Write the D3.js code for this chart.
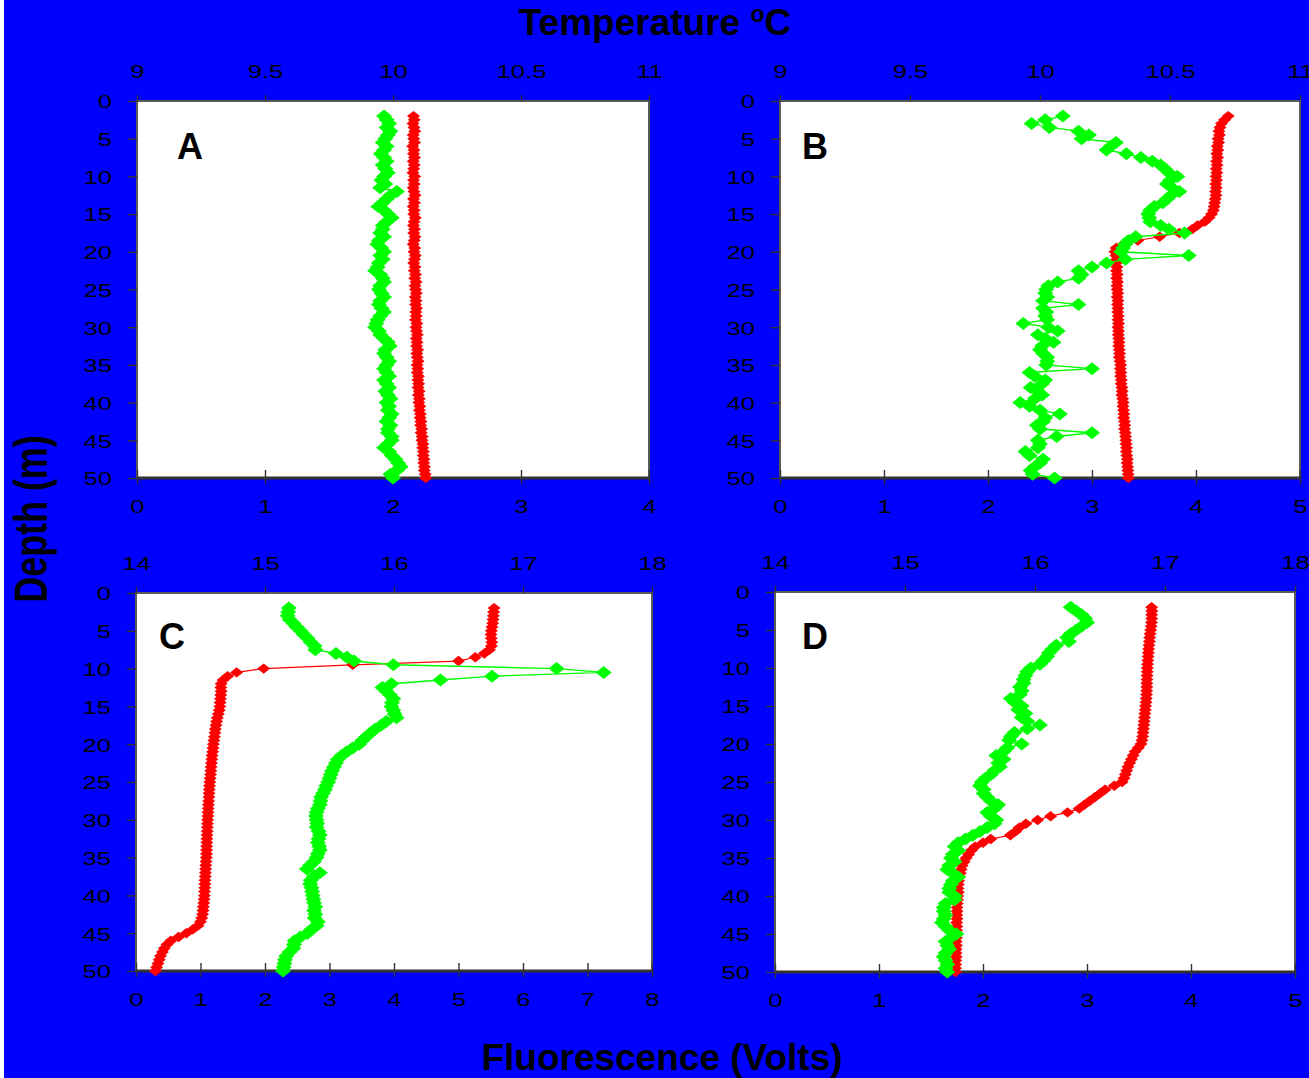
<!DOCTYPE html>
<html><head><meta charset="utf-8">
<script src="https://cdn.jsdelivr.net/npm/d3@7"></script>
<style>body{margin:0;background:#fff}svg{display:block}</style>
</head><body>
<svg id="c" width="1309" height="1078"></svg>
<script>
// ---------- DATA ----------
const depths = [2,2.5,3,3.5,4,4.5,5,5.5,6,6.5,7,7.5,8,8.5,9,9.5,10,10.5,11,11.5,
12,12.5,13,13.5,14,14.5,15,15.5,16,16.5,17,17.5,18,18.5,19,19.5,20,20.5,21,21.5,
22,22.5,23,23.5,24,24.5,25,25.5,26,26.5,27,27.5,28,28.5,29,29.5,30,30.5,31,31.5,
32,32.5,33,33.5,34,34.5,35,35.5,36,36.5,37,37.5,38,38.5,39,39.5,40,40.5,41,41.5,
42,42.5,43,43.5,44,44.5,45,45.5,46,46.5,47,47.5,48,48.5,49,49.5,50];

const depthTicks = [0,5,10,15,20,25,30,35,40,45,50];
const tempTicksAB = [9,9.5,10,10.5,11];
const tempTicksCD = [14,15,16,17,18];
const fluorTicksA = [0,1,2,3,4];
const fluorTicksB = [0,1,2,3,4,5];
const fluorTicksC = [0,1,2,3,4,5,6,7,8];
const fluorTicksD = [0,1,2,3,4,5];
const panelLetters = ["A","B","C","D"];

// Panel A
const tempA = [10.080,10.083,10.078,10.082,10.085,10.079,10.081,10.084,10.077,10.082,
10.080,10.084,10.079,10.083,10.081,10.078,10.085,10.080,10.083,10.079,
10.082,10.086,10.080,10.084,10.079,10.083,10.081,10.087,10.082,10.080,
10.084,10.081,10.086,10.083,10.079,10.085,10.082,10.087,10.084,10.081,
10.086,10.083,10.088,10.085,10.090,10.086,10.088,10.091,10.087,10.090,
10.088,10.092,10.089,10.091,10.088,10.093,10.090,10.092,10.095,10.091,
10.094,10.092,10.096,10.093,10.095,10.098,10.094,10.097,10.095,10.099,
10.097,10.100,10.098,10.102,10.099,10.103,10.101,10.105,10.103,10.107,
10.106,10.109,10.108,10.112,10.110,10.114,10.113,10.117,10.116,10.119,
10.118,10.121,10.120,10.123,10.122,10.126,10.128];
const fluorA = [1.93,1.95,1.97,1.95,1.98,1.96,1.94,1.92,1.95,1.93,
1.905,1.93,1.95,1.92,1.94,1.96,1.93,1.91,1.94,1.90,
2.03,1.98,1.95,1.92,1.885,1.93,1.96,1.99,1.95,1.92,
1.92,1.90,1.93,1.89,1.877,1.91,1.93,1.90,1.92,1.89,
1.88,1.86,1.90,1.92,1.93,1.90,1.89,1.91,1.93,1.90,
1.89,1.91,1.93,1.90,1.88,1.87,1.86,1.89,1.90,1.93,
1.96,1.975,1.94,1.93,1.95,1.97,1.95,1.93,1.95,1.97,
1.93,1.95,1.97,1.94,1.96,1.98,1.95,1.97,1.96,1.99,
1.97,1.95,1.98,1.96,1.96,1.99,1.99,1.96,1.93,1.97,
1.99,2.02,2.04,2.06,2.03,1.98,2.00];

// Panel B
const tempB = [10.724,10.710,10.698,10.692,10.688,10.690,10.685,10.687,10.682,10.684,
10.680,10.683,10.679,10.681,10.678,10.680,10.677,10.679,10.676,10.678,
10.675,10.677,10.674,10.672,10.670,10.667,10.660,10.650,10.634,10.606,
10.585,10.536,10.460,10.376,10.320,10.293,10.288,10.292,10.295,10.293,
10.296,10.294,10.297,10.295,10.298,10.296,10.297,10.299,10.297,10.300,
10.298,10.300,10.299,10.301,10.300,10.302,10.300,10.302,10.301,10.303,
10.304,10.303,10.305,10.306,10.305,10.308,10.310,10.309,10.311,10.310,
10.313,10.312,10.315,10.316,10.315,10.318,10.320,10.319,10.321,10.323,
10.322,10.325,10.326,10.325,10.328,10.329,10.330,10.331,10.333,10.332,
10.334,10.336,10.335,10.337,10.338,10.339,10.340];
const fluorB = [2.72,2.55,2.42,2.59,2.87,2.97,2.90,3.23,3.18,3.14,
3.33,3.47,3.58,3.66,3.70,3.74,3.82,3.75,3.72,3.77,
3.84,3.76,3.72,3.68,3.60,3.56,3.54,3.55,3.56,3.66,
3.74,3.89,3.42,3.35,3.32,3.30,3.28,3.93,3.32,3.14,
3.00,2.87,2.90,2.87,2.67,2.58,2.56,2.55,2.57,2.53,
2.87,2.53,2.56,2.55,2.57,2.34,2.58,2.67,2.48,2.55,
2.63,2.52,2.50,2.53,2.57,2.57,2.56,3.00,2.40,2.45,
2.55,2.52,2.41,2.48,2.52,2.45,2.31,2.40,2.50,2.69,
2.55,2.53,2.47,2.50,3.00,2.66,2.48,2.50,2.48,2.36,
2.40,2.53,2.50,2.45,2.41,2.43,2.64];

// Panel C
const tempC = [16.776,16.772,16.770,16.768,16.765,16.760,16.755,16.752,16.754,16.758,
16.755,16.740,16.700,16.630,16.500,15.680,14.990,14.780,14.710,14.675,
14.660,14.658,14.660,14.657,14.655,14.652,14.650,14.645,14.638,14.630,
14.625,14.620,14.615,14.612,14.608,14.604,14.600,14.597,14.594,14.590,
14.588,14.585,14.582,14.580,14.578,14.575,14.572,14.570,14.568,14.566,
14.565,14.563,14.561,14.560,14.558,14.557,14.555,14.554,14.553,14.552,
14.551,14.550,14.549,14.548,14.547,14.546,14.545,14.543,14.541,14.540,
14.538,14.537,14.535,14.534,14.533,14.531,14.530,14.528,14.525,14.522,
14.520,14.516,14.510,14.500,14.480,14.440,14.390,14.330,14.270,14.240,
14.220,14.205,14.190,14.180,14.170,14.160,14.150];
const fluorC = [2.37,2.36,2.35,2.38,2.44,2.49,2.55,2.60,2.66,2.71,
2.77,2.78,3.10,3.27,3.38,3.99,6.52,7.25,5.52,4.72,
3.96,3.82,3.88,3.94,3.99,3.97,3.96,3.99,4.01,4.04,
3.88,3.80,3.71,3.64,3.57,3.51,3.46,3.36,3.27,3.19,
3.13,3.10,3.07,3.04,3.02,3.00,2.98,2.95,2.93,2.90,
2.87,2.86,2.85,2.82,2.80,2.79,2.80,2.81,2.80,2.83,
2.85,2.83,2.82,2.84,2.85,2.82,2.80,2.76,2.70,2.65,
2.85,2.76,2.71,2.70,2.72,2.73,2.74,2.75,2.76,2.78,
2.76,2.78,2.77,2.82,2.80,2.72,2.66,2.55,2.46,2.45,
2.44,2.38,2.33,2.31,2.30,2.29,2.28];

// Panel D
const tempD = [16.897,16.899,16.897,16.898,16.896,16.894,16.890,16.886,16.882,16.880,
16.877,16.874,16.872,16.870,16.868,16.866,16.864,16.863,16.862,16.861,
16.860,16.860,16.859,16.858,16.856,16.854,16.851,16.848,16.845,16.842,
16.840,16.837,16.834,16.831,16.828,16.823,16.815,16.795,16.770,16.755,
16.742,16.728,16.715,16.705,16.695,16.685,16.670,16.610,16.540,16.500,
16.460,16.420,16.380,16.340,16.250,16.120,16.020,15.930,15.880,15.850,
15.810,15.660,15.600,15.540,15.510,15.490,15.470,15.455,15.440,15.432,
15.425,15.418,15.412,15.410,15.408,15.410,15.406,15.404,15.402,15.400,
15.400,15.398,15.400,15.397,15.398,15.396,15.398,15.395,15.394,15.396,
15.393,15.392,15.394,15.391,15.390,15.389,15.388];
const fluorD = [2.844,2.896,2.948,2.983,3.001,2.948,2.896,2.844,2.809,2.826,
2.704,2.669,2.634,2.617,2.582,2.547,2.460,2.425,2.408,2.390,
2.390,2.355,2.373,2.355,2.268,2.303,2.373,2.338,2.408,2.373,
2.425,2.547,2.425,2.303,2.268,2.251,2.373,2.233,2.198,2.128,
2.198,2.146,2.163,2.111,2.076,2.024,1.989,1.971,2.006,2.006,
2.041,2.076,2.146,2.111,2.041,2.076,2.128,2.111,2.041,1.971,
1.902,1.832,1.762,1.727,1.762,1.710,1.692,1.727,1.675,1.657,
1.710,1.762,1.710,1.692,1.675,1.675,1.727,1.727,1.640,1.622,
1.622,1.640,1.622,1.605,1.640,1.675,1.745,1.692,1.640,1.657,
1.675,1.640,1.622,1.640,1.657,1.640,1.657];

// ---------- LAYOUT ----------
const FONT = "'Liberation Sans', Arial, Helvetica, sans-serif";
const panels = [
  {box:[137,101,649,478], tDom:[9,11], fMax:4, tTicks:tempTicksAB, fTicks:fluorTicksA, temp:tempA, fluor:fluorA, lp:[177,159]},
  {box:[780,101,1300,478], tDom:[9,11], fMax:5, tTicks:tempTicksAB, fTicks:fluorTicksB, temp:tempB, fluor:fluorB, lp:[802,159]},
  {box:[136,593,652,971], tDom:[14,18], fMax:8, tTicks:tempTicksCD, fTicks:fluorTicksC, temp:tempC, fluor:fluorC, lp:[159,649]},
  {box:[775,592,1295,972], tDom:[14,18], fMax:5, tTicks:tempTicksCD, fTicks:fluorTicksD, temp:tempD, fluor:fluorD, lp:[802,649]}
];

const svg = d3.select("#c");
svg.append("rect").attr("width",1309).attr("height",1078).attr("fill","#fff");
svg.append("rect").attr("x",4).attr("width",1305).attr("height",1078).attr("fill","#0000ff");

const diamond = (hw,hh) => `M0,${-hh}L${hw},0L0,${hh}L${-hw},0Z`;

panels.forEach((p,i)=>{
  const [x0,y0,x1,y1] = p.box, w = x1-x0, h = y1-y0;
  const g = svg.append("g").attr("transform",`translate(${x0},${y0})`);
  const y = d3.scaleLinear().domain([0,50]).range([0,h]);
  const xT = d3.scaleLinear().domain(p.tDom).range([0,w]);
  const xF = d3.scaleLinear().domain([0,p.fMax]).range([0,w]);

  g.append("rect").attr("width",w).attr("height",h).attr("fill","#fff")
    .attr("stroke","#5a5a5a").attr("stroke-width",2);
  g.append("line").attr("x1",0).attr("x2",w).attr("y1",h).attr("y2",h)
    .attr("stroke","#333").attr("stroke-width",3);

  const styleAxis = (ax)=>{
    ax.select(".domain").remove();
    ax.selectAll(".tick line").attr("stroke","#333").attr("stroke-width",1.4);
    ax.selectAll(".tick text").attr("fill","#000").style("font-family",FONT).style("font-size","19px");
  };
  const top = g.append("g").call(d3.axisTop(xT).tickValues(p.tTicks).tickSize(6).tickFormat(d3.format("")));
  styleAxis(top);
  top.selectAll(".tick text").attr("y",-23).attr("dy","0").attr("transform","scale(1.35,1)");

  const bot = g.append("g").attr("transform",`translate(0,${h})`)
    .call(d3.axisBottom(xF).tickValues(p.fTicks).tickSize(6).tickFormat(d3.format("")));
  styleAxis(bot);
  bot.selectAll(".tick line").attr("y1",-8).attr("y2",6);
  bot.selectAll(".tick text").attr("y",35).attr("dy","0").attr("transform","scale(1.35,1)");

  const left = g.append("g").call(d3.axisLeft(y).tickValues(depthTicks).tickSize(9).tickFormat(d3.format("")));
  styleAxis(left);
  left.selectAll(".tick text").attr("x",-18.5).attr("dy","0.36em").attr("transform","scale(1.35,1)");

  const tData = depths.map((d,k)=>({d, v:p.temp[k]}));
  const fData = depths.map((d,k)=>({d, v:p.fluor[k]}));

  g.append("path").datum(tData).attr("fill","none").attr("stroke","#ff0000").attr("stroke-width",1.2)
    .attr("d", d3.line().x(d=>xT(d.v)).y(d=>y(d.d)));
  g.selectAll(".rm").data(tData).enter().append("path")
    .attr("transform",d=>`translate(${xT(d.v)},${y(d.d)})`)
    .attr("d", diamond(6.5,5.2)).attr("fill","#ff0000");

  g.append("path").datum(fData).attr("fill","none").attr("stroke","#00ff00").attr("stroke-width",1.4)
    .attr("d", d3.line().x(d=>xF(d.v)).y(d=>y(d.d)));
  g.selectAll(".gm").data(fData).enter().append("path")
    .attr("transform",d=>`translate(${xF(d.v)},${y(d.d)})`)
    .attr("d", diamond(8,6.5)).attr("fill","#00ff00");

  svg.append("text").attr("x",p.lp[0]).attr("y",p.lp[1]).text(panelLetters[i])
    .style("font-family",FONT).style("font-weight","bold").style("font-size","36px").attr("fill","#000");
});

// Titles
const tt = svg.append("text").attr("x",655).attr("y",35).attr("text-anchor","middle")
  .style("font-family",FONT).style("font-weight","bold").style("font-size","37px").attr("fill","#000");
tt.append("tspan").text("Temperature ");
tt.append("tspan").text("o").style("font-size","23px").attr("dy",-13);
tt.append("tspan").text("C").attr("dy",13);

svg.append("text").attr("x",662).attr("y",1070).attr("text-anchor","middle")
  .style("font-family",FONT).style("font-weight","bold").style("font-size","37px").attr("fill","#000")
  .text("Fluorescence (Volts)");

svg.append("text").attr("transform","translate(47,519) rotate(-90) scale(0.78,1)")
  .attr("text-anchor","middle")
  .style("font-family",FONT).style("font-weight","bold").style("font-size","46px").attr("fill","#000")
  .text("Depth (m)");
</script>
</body></html>
